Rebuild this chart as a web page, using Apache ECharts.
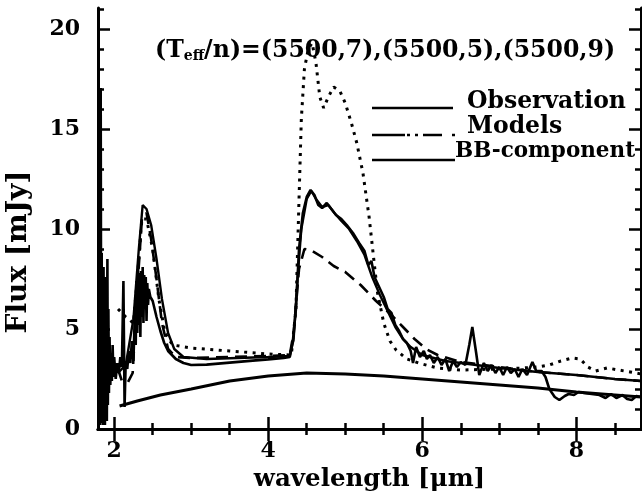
<!DOCTYPE html>
<html>
<head>
<meta charset="utf-8">
<script src="https://cdn.jsdelivr.net/npm/echarts@6/dist/echarts.min.js"></script>
<style>
html, body { margin: 0; padding: 0; background: #fff; }
#chart { width: 642px; height: 494px; }
</style>
</head>
<body>
<div id="chart"></div>
<script>
// tick positions
var xMajor = [2, 4, 6, 8];
var xMinor = [2.5, 3, 3.5, 4.5, 5, 5.5, 6.5, 7, 7.5, 8.5];
var yMajor = [0, 5, 10, 15, 20];
var yMinor = [1, 2, 3, 4, 6, 7, 8, 9, 11, 12, 13, 14, 16, 17, 18, 19, 21];

// observation (noisy solid)
var obsData = [
    [1.795, 2.5], [1.80, 8.4], [1.805, 0.4], [1.81, 6.8], [1.818, 0.2], [1.825, 17.05], [1.832, 0.6],
    [1.838, 8.8], [1.843, 0.3], [1.85, 7.2], [1.856, 0.2], [1.862, 8.1], [1.868, 0.5], [1.874, 5.6],
    [1.88, 0.2], [1.886, 7.6], [1.892, 0.6], [1.898, 4.8], [1.905, 0.4], [1.912, 8.5], [1.918, 1.2],
    [1.925, 6.0], [1.932, 1.8], [1.94, 4.6], [1.95, 2.2], [1.96, 3.8], [1.97, 2.4], [1.98, 4.2],
    [1.99, 2.6], [2.0, 3.6], [2.02, 2.5], [2.04, 3.3], [2.06, 2.8], [2.08, 3.6], [2.10, 3.1],
    [2.12, 7.4], [2.135, 1.1], [2.15, 3.4], [2.17, 3.0], [2.19, 3.9], [2.21, 3.3], [2.23, 4.4],
    [2.25, 3.4], [2.27, 6.0], [2.28, 4.2], [2.29, 7.4], [2.30, 4.8], [2.31, 8.0], [2.32, 5.2],
    [2.33, 7.8], [2.34, 4.6], [2.35, 7.9], [2.36, 5.6], [2.37, 8.1], [2.38, 5.3], [2.39, 7.7],
    [2.40, 6.0], [2.41, 7.6], [2.42, 5.4], [2.43, 7.3], [2.44, 6.2], [2.45, 7.0], [2.47, 6.6],
    [2.50, 6.4], [2.55, 5.6], [2.60, 4.9], [2.65, 4.3], [2.70, 3.9], [2.80, 3.5], [2.90, 3.3],
    [3.00, 3.2], [3.20, 3.22], [3.50, 3.32], [3.80, 3.42], [4.00, 3.48], [4.20, 3.55], [4.28, 3.6],
    [4.32, 4.4], [4.36, 6.0], [4.40, 9.0], [4.45, 10.8], [4.50, 11.6], [4.55, 11.95], [4.60, 11.7],
    [4.65, 11.2], [4.70, 11.05], [4.76, 11.3], [4.82, 11.0], [4.88, 10.7], [4.95, 10.5], [5.02, 10.2],
    [5.10, 9.8], [5.18, 9.3], [5.25, 8.9], [5.30, 8.2], [5.34, 8.4], [5.38, 7.6], [5.44, 7.1],
    [5.50, 6.6], [5.55, 6.0], [5.60, 5.8], [5.65, 5.2], [5.70, 4.9], [5.75, 4.5], [5.80, 4.3],
    [5.85, 3.9], [5.88, 3.3], [5.92, 4.1], [5.97, 3.6], [6.02, 3.9], [6.06, 3.5], [6.10, 3.7],
    [6.15, 3.3], [6.20, 3.6], [6.25, 3.2], [6.30, 3.5], [6.35, 2.9], [6.40, 3.4], [6.45, 3.1],
    [6.50, 3.35], [6.56, 3.2], [6.61, 4.2], [6.65, 5.1], [6.70, 3.8], [6.74, 2.7], [6.80, 3.3],
    [6.85, 2.9], [6.90, 3.2], [6.95, 2.8], [7.00, 3.1], [7.05, 2.7], [7.10, 3.1], [7.15, 2.8],
    [7.20, 3.0], [7.25, 2.6], [7.30, 3.0], [7.36, 2.7], [7.43, 3.35], [7.48, 2.9], [7.55, 2.9],
    [7.60, 2.6], [7.65, 2.0], [7.72, 1.6], [7.78, 1.45], [7.85, 1.65], [7.90, 1.75], [7.97, 1.7],
    [8.03, 1.85], [8.10, 1.8], [8.20, 1.75], [8.30, 1.7], [8.38, 1.55], [8.45, 1.75], [8.52, 1.55],
    [8.60, 1.7], [8.66, 1.5], [8.72, 1.45], [8.78, 1.65], [8.84, 1.6]
];

// model (5500,7) solid
var model7 = [
    [2.05, 2.8], [2.15, 3.2], [2.25, 5.5], [2.32, 9.0], [2.37, 11.2], [2.42, 11.0], [2.48, 10.2],
    [2.55, 8.5], [2.62, 6.5], [2.70, 4.8], [2.78, 4.0], [2.90, 3.6], [3.20, 3.5], [3.60, 3.55],
    [4.00, 3.6], [4.28, 3.65], [4.33, 4.5], [4.38, 7.5], [4.43, 10.0], [4.50, 11.5], [4.56, 11.9],
    [4.62, 11.5], [4.70, 11.1], [4.78, 11.2], [4.86, 10.8], [4.95, 10.4], [5.05, 10.0], [5.15, 9.4],
    [5.25, 8.7], [5.35, 7.6], [5.45, 6.7], [5.55, 5.9], [5.65, 5.1], [5.75, 4.5], [5.85, 4.1],
    [6.00, 3.7], [6.30, 3.4], [6.60, 3.25], [7.00, 3.05], [7.50, 2.85], [8.00, 2.7], [8.50, 2.5],
    [8.84, 2.4]
];

// model (5500,5) dashed
var model5 = [
    [2.05, 3.0], [2.10, 2.4], [2.18, 2.35], [2.24, 2.8], [2.30, 7.0], [2.36, 10.5], [2.42, 10.8],
    [2.48, 9.5], [2.55, 7.5], [2.62, 5.3], [2.70, 4.0], [2.80, 3.6], [3.00, 3.55], [3.50, 3.6],
    [4.00, 3.65], [4.28, 3.7], [4.33, 4.8], [4.40, 8.0], [4.47, 9.0], [4.55, 8.95], [4.70, 8.6],
    [4.85, 8.15], [5.00, 7.85], [5.20, 7.2], [5.40, 6.4], [5.60, 5.7], [5.75, 5.1], [5.90, 4.5],
    [6.05, 4.0], [6.20, 3.7], [6.50, 3.35], [7.00, 3.1], [7.50, 2.85], [8.00, 2.7], [8.50, 2.5],
    [8.84, 2.4]
];

// model (5500,9) dotted
var model9 = [
    [2.05, 6.0], [2.15, 5.6], [2.25, 5.3], [2.30, 7.5], [2.36, 10.5], [2.42, 10.5], [2.50, 9.0],
    [2.58, 6.5], [2.66, 4.8], [2.76, 4.2], [3.00, 4.05], [3.50, 3.9], [4.00, 3.75], [4.30, 3.7],
    [4.36, 6.0], [4.40, 11.5], [4.43, 15.5], [4.47, 18.0], [4.52, 19.0], [4.57, 19.3], [4.62, 18.3],
    [4.67, 16.6], [4.72, 16.05], [4.78, 16.6], [4.85, 17.1], [4.93, 16.9], [5.00, 16.3], [5.08, 15.3],
    [5.15, 14.3], [5.23, 12.8], [5.31, 10.6], [5.37, 8.5], [5.42, 6.8], [5.50, 5.3], [5.58, 4.4],
    [5.66, 3.95], [5.80, 3.5], [5.95, 3.3], [6.20, 3.05], [6.50, 2.95], [7.00, 3.0], [7.30, 3.05],
    [7.50, 3.1], [7.65, 3.2], [7.80, 3.4], [7.95, 3.55], [8.05, 3.5], [8.15, 3.1], [8.25, 2.9],
    [8.40, 3.05], [8.55, 2.95], [8.70, 2.85], [8.84, 2.75]
];

// black-body component
var bbData = [
    [2.07, 1.15], [2.3, 1.4], [2.6, 1.7], [3.0, 2.0], [3.5, 2.4], [4.0, 2.65], [4.5, 2.8],
    [5.0, 2.75], [5.5, 2.65], [6.0, 2.5], [6.5, 2.35], [7.0, 2.2], [7.5, 2.05], [8.0, 1.85],
    [8.5, 1.7], [8.84, 1.6]
];

var FONT = 'DejaVu Serif';
var XMIN = 1.79, XMAX = 8.84, YMIN = 0, YMAX = 21.05;

function xAx(pos, ticks, len, withLine, withLabel) {
    return {
        type: 'value', position: pos, min: XMIN, max: XMAX,
        axisLine: { show: withLine, lineStyle: { color: '#000', width: 3 } },
        axisTick: { show: true, inside: true, length: len, customValues: ticks,
            lineStyle: { color: '#000', width: 2.5 } },
        axisLabel: { show: withLabel, customValues: ticks, margin: 11, color: '#000',
            fontFamily: FONT, fontWeight: 'bold', fontSize: 22 },
        splitLine: { show: false }
    };
}
function yAx(pos, ticks, len, withLine, withLabel) {
    return {
        type: 'value', position: pos, min: YMIN, max: YMAX,
        axisLine: { show: withLine, lineStyle: { color: '#000', width: 3 } },
        axisTick: { show: true, inside: true, length: len, customValues: ticks,
            lineStyle: { color: '#000', width: 2.5 } },
        axisLabel: { show: withLabel, customValues: ticks, margin: 18, color: '#000',
            fontFamily: FONT, fontWeight: 'bold', fontSize: 22 },
        splitLine: { show: false }
    };
}

var xAxes = [
    xAx('bottom', xMajor, 12, true, true),
    xAx('bottom', xMinor, 6, false, false),
    xAx('top', xMajor, 12, true, false),
    xAx('top', xMinor, 6, false, false)
];
xAxes[0].name = 'wavelength [μm]';
xAxes[0].nameLocation = 'middle';
xAxes[0].nameGap = 37;
xAxes[0].nameTextStyle = { color: '#000', fontFamily: FONT, fontWeight: 'bold', fontSize: 24.5 };

var yAxes = [
    yAx('left', yMajor, 12, true, true),
    yAx('left', yMinor, 6, false, false),
    yAx('right', yMajor, 12, true, false),
    yAx('right', yMinor, 6, false, false)
];

function lineSeries(name, data, style) {
    return {
        name: name, type: 'line', data: data, xAxisIndex: 0, yAxisIndex: 0,
        showSymbol: false, symbol: 'none', smooth: false, animation: false,
        lineStyle: style, clip: true
    };
}

var legendText = { fill: '#000', fontFamily: FONT, fontWeight: 'bold', fontSize: 23.5 };
var blk = { stroke: '#000', lineWidth: 2.5 };

var myChart = echarts.init(document.getElementById('chart'));
var option = {
    animation: false,
    backgroundColor: '#fff',
    grid: { left: 98, right: 1, top: 8, bottom: 65, containLabel: false, outerBoundsMode: 'none' },
    title: {
        text: '{a|(T}{s|eff}{a|/n)=(5500,7),(5500,5),(5500,9)}',
        left: 150, top: 33,
        textStyle: {
            rich: {
                a: { color: '#000', fontFamily: FONT, fontWeight: 'bold', fontSize: 23.6 },
                s: { color: '#000', fontFamily: FONT, fontWeight: 'bold', fontSize: 14,
                     verticalAlign: 'bottom', padding: [11, 0, 0, 0] }
            }
        }
    },
    xAxis: xAxes,
    yAxis: yAxes,
    graphic: [
        { type: 'line', shape: { x1: 372, y1: 108, x2: 453, y2: 108 }, style: blk },
        { type: 'line', shape: { x1: 372, y1: 135, x2: 405, y2: 135 }, style: blk },
        { type: 'line', shape: { x1: 407, y1: 135, x2: 410, y2: 135 }, style: blk },
        { type: 'line', shape: { x1: 415, y1: 135, x2: 418, y2: 135 }, style: blk },
        { type: 'line', shape: { x1: 423, y1: 135, x2: 442, y2: 135 }, style: blk },
        { type: 'line', shape: { x1: 452, y1: 135, x2: 455, y2: 135 }, style: blk },
        { type: 'line', shape: { x1: 372, y1: 160, x2: 455, y2: 160 }, style: blk },
        { type: 'text', left: 467, top: 90, style: Object.assign({ text: 'Observation' }, legendText) },
        { type: 'text', left: 467, top: 115, style: Object.assign({ text: 'Models' }, legendText) },
        { type: 'text', left: 455, top: 140, style: Object.assign({}, legendText, { text: 'BB-component', fontSize: 21.5 }) },
        { type: 'text', x: 19, y: 252, rotation: Math.PI / 2,
          style: { text: 'Flux [mJy]', fill: '#000', fontFamily: FONT, fontWeight: 'bold', fontSize: 28,
                   align: 'center', verticalAlign: 'middle' } }
    ],
    series: [
        lineSeries('BB-component', bbData, { color: '#000', width: 3 }),
        lineSeries('(5500,9)', model9, { color: '#000', width: 3, type: [3, 5.5] }),
        lineSeries('(5500,5)', model5, { color: '#000', width: 2.6, type: [12, 7] }),
        lineSeries('(5500,7)', model7, { color: '#000', width: 2.4 }),
        lineSeries('Observation', obsData, { color: '#000', width: 2.6 })
    ]
};
myChart.setOption(option);
window.addEventListener('resize', function () { myChart.resize(); });
</script>
</body>
</html>
